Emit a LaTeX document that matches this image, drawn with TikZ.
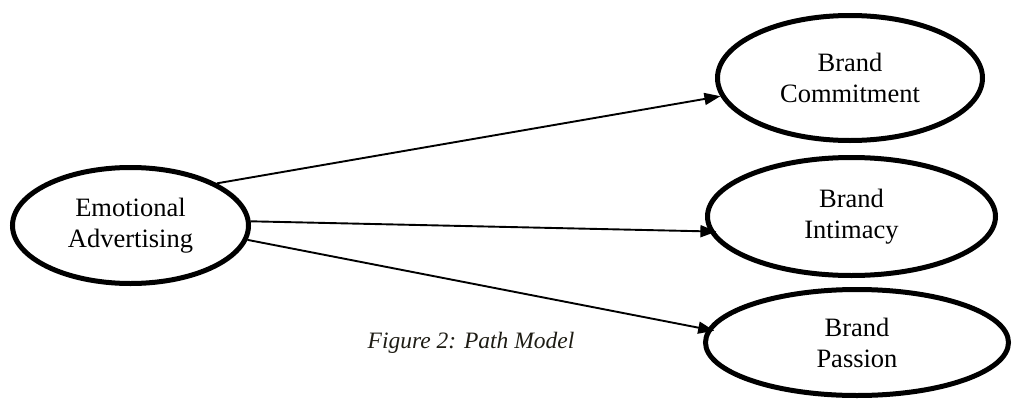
\documentclass[tikz,border=0pt]{standalone}
\usepackage{fontspec}
\setmainfont{Liberation Serif}
\usetikzlibrary{shapes.geometric,arrows.meta}
\definecolor{captiongray}{HTML}{1E1C14}
\begin{document}
\begin{tikzpicture}[x=1pt,y=-1pt,
  construct/.style={ellipse,draw,line width=5pt,inner sep=0pt,align=center,
    font=\fontsize{26.5}{31}\selectfont},
  path arrow/.style={line width=1.9pt,-{Triangle[length=16pt,width=12pt]}},
  caption/.style={font=\fontsize{23.5}{28}\selectfont\itshape,text=captiongray,inner sep=0pt}]
\useasboundingbox (0,0) rectangle (1013,399);

% latent constructs
\node[construct,minimum width=236pt,minimum height=116pt] (ea) at (130.5,225.5) {Emotional\\Advertising};
\node[construct,minimum width=265pt,minimum height=125pt] (bc) at (850,78) {Brand\\Commitment};
\node[construct,minimum width=288pt,minimum height=118pt] (bi) at (851.5,216.5) {Brand\\Intimacy};
\node[construct,minimum width=303pt,minimum height=106pt] (bp) at (857,342.5) {Brand\\Passion};

% structural paths
\draw[path arrow] (ea.26) -- (bc.188);
\draw[path arrow,shorten >=-7pt] (ea.2) -- (bi.186);
\draw[path arrow,shorten >=-7pt] (ea.-7) -- (bp.175);

\node[caption,anchor=base] (cap) at (471,348) {Figure 2: Path Model};
\end{tikzpicture}
\end{document}
